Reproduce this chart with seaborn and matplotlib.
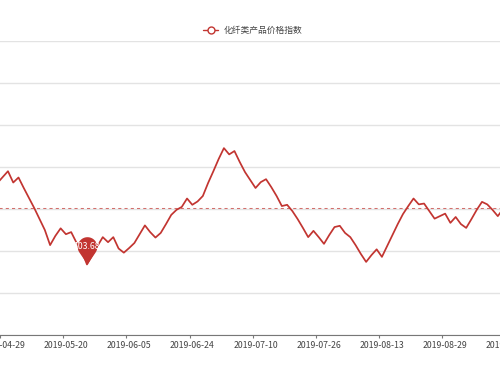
#!/usr/bin/env python3

import numpy as np
import pandas as pd
import matplotlib
matplotlib.use("Agg")
import matplotlib.pyplot as plt
from matplotlib.path import Path
from matplotlib.lines import Line2D
import seaborn as sns

# ---- data ----
series_name = "化纤类产品价格指数"
date_start = "2019-04-26"
date_end = "2019-09-17"
holidays = ["2019-05-01", "2019-05-02", "2019-05-03", "2019-06-07", "2019-09-13"]
first_label = "2019-04-29"
label_step = 12

index_values = [
	105.62, 105.76, 105.90, 105.63, 105.75, 105.50, 105.26, 105.02, 104.76, 104.50,
	104.14, 104.36, 104.54, 104.40, 104.45, 104.20, 104.00, 103.68, 103.90, 104.12,
	104.33, 104.21, 104.33, 104.06, 103.96, 104.07, 104.19, 104.40, 104.61, 104.45,
	104.32, 104.43, 104.64, 104.86, 104.98, 105.05, 105.25, 105.10, 105.18, 105.31,
	105.62, 105.90, 106.19, 106.45, 106.30, 106.38, 106.12, 105.88, 105.69, 105.50,
	105.64, 105.71, 105.52, 105.31, 105.07, 105.10, 104.95, 104.76, 104.55, 104.33,
	104.48, 104.33, 104.17, 104.38, 104.57, 104.60, 104.43, 104.33, 104.14, 103.93,
	103.74, 103.90, 104.04, 103.86, 104.12, 104.38, 104.64, 104.88, 105.07, 105.25,
	105.11, 105.13, 104.95, 104.77, 104.83, 104.89, 104.67, 104.81, 104.64, 104.55,
	104.76, 104.98, 105.17, 105.11, 104.98, 104.83, 105.00, 105.05,
]
avg_value = 105.02  # average line of the whole series (only part is visible)
y_min, y_max = 102, 109

# trading-day categories
dates = pd.bdate_range(date_start, date_end, freq="C", holidays=holidays)
date_labels = [d.strftime("%Y-%m-%d") for d in dates]
pos = np.arange(len(date_labels))
values = np.array(index_values)

red = "#c23531"

sns.set_theme(style="white")
plt.rcParams['font.family'] = ['Noto Sans CJK SC', 'DejaVu Sans']

fig = plt.figure(figsize=(5, 3.75), dpi=100)
# the chart is a crop: the plot area runs past both sides of the picture
ax = fig.add_axes([-0.1, 40 / 375, 1.2, 294 / 375])

ax.set_ylim(y_min, y_max)
ax.set_yticks(np.arange(y_min, y_max + 1))
ax.grid(axis="y", color="#e3e3e3", linewidth=1.0)
ax.set_axisbelow(True)

sns.lineplot(x=pos, y=values, ax=ax, color=red, linewidth=1.25, legend=False, zorder=3)

# average mark line
ax.axhline(avg_value, color=red, alpha=0.7, linewidth=0.75, linestyle=(0, (3, 3)), zorder=2)

# min mark (pin), tip on the point
r, c = 9.8, 17.5
phi = np.arccos(r / c)
ang = np.linspace(-np.pi / 2 + phi, 3 * np.pi / 2 - phi, 40)
pin_verts = [(0, 0)] + [(r * np.cos(a), c + r * np.sin(a)) for a in ang] + [(0, 0)]
pin = Path(pin_verts, closed=True)
i_min = int(np.argmin(values))
ax.plot(pos[i_min], values[i_min], marker=pin, markersize=2 * (c + r) * 0.72,
	color=red, markeredgewidth=0, linestyle="none", zorder=5)
ax.annotate(f"{values[i_min]:.2f}", (pos[i_min], values[i_min]), xytext=(0, c * 0.72),
	textcoords="offset points", ha="center", va="center", color="white", fontsize=6.3, zorder=6)

# x axis: labels on categories, tick marks on band boundaries
x0 = date_labels.index(first_label)
px = 5.267
ax.set_xlim((-50 - 2.7) / px + x0, (550 - 2.7) / px + x0)
lab_pos = pos[x0::label_step]
ax.set_xticks(lab_pos)
ax.set_xticklabels([date_labels[p] for p in lab_pos])
ax.set_xticks(lab_pos - 0.5, minor=True)
ax.tick_params(axis="x", which="major", length=0, pad=4, labelsize=6.3, labelcolor="#444")
ax.tick_params(axis="x", which="minor", length=2.5, width=0.8, color="#777", bottom=True)
ax.tick_params(axis="y", left=False, labelleft=False)
for s in ["top", "left", "right"]:
	ax.spines[s].set_visible(False)
ax.spines["bottom"].set_color("#777")
ax.spines["bottom"].set_linewidth(0.8)
ax.set_xlabel("")
ax.set_ylabel("")

handle = Line2D([], [], color=red, linewidth=1.0, marker="o", markersize=5,
	markerfacecolor="white", markeredgecolor=red, markeredgewidth=1.0)
fig.legend([handle], [series_name], loc="center", bbox_to_anchor=(0.505, 1 - 30.7 / 375),
	frameon=False, fontsize=6.3, handlelength=1.7, handletextpad=0.6, labelcolor="#444")

fig.savefig("out.png", dpi=100)
